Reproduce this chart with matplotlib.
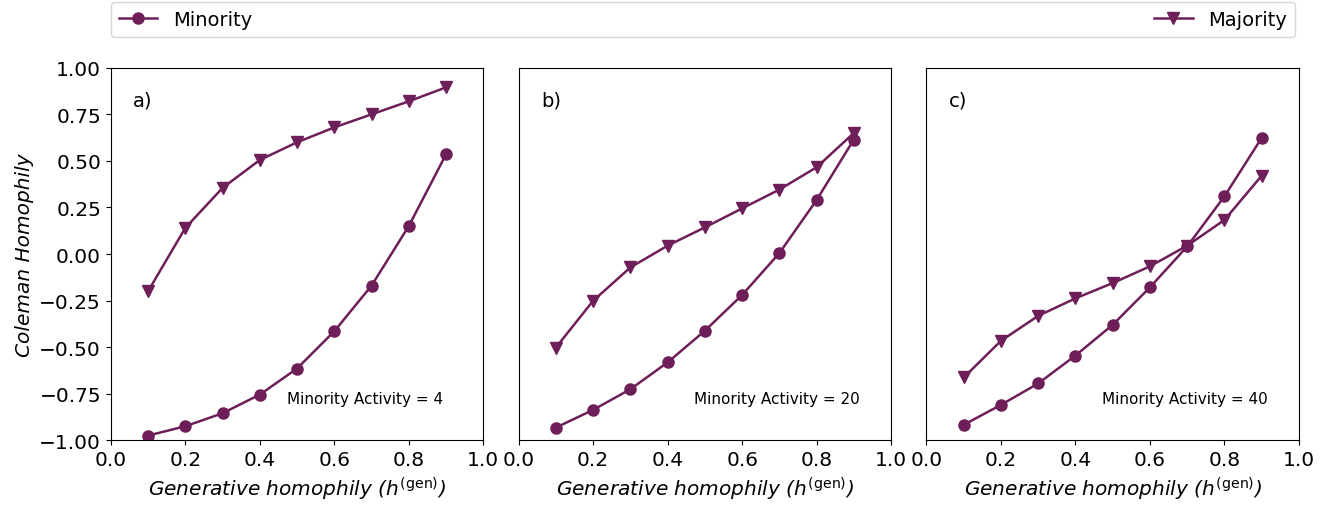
import numpy as np
import matplotlib.pyplot as plt

h_gen = [0.1, 0.2, 0.3, 0.4, 0.5, 0.6, 0.7, 0.8, 0.9]
activities = [4, 20, 40]
panel_tags = ["a)", "b)", "c)"]

minority = [
    [-0.975, -0.925, -0.855, -0.755, -0.615, -0.415, -0.17, 0.15, 0.535],
    [-0.932, -0.837, -0.726, -0.582, -0.412, -0.220, 0.005, 0.29, 0.615],
    [-0.917, -0.810, -0.695, -0.545, -0.380, -0.179, 0.041, 0.310, 0.624],
]
majority = [
    [-0.20, 0.14, 0.355, 0.505, 0.60, 0.68, 0.75, 0.82, 0.895],
    [-0.502, -0.251, -0.072, 0.045, 0.143, 0.245, 0.346, 0.466, 0.65],
    [-0.663, -0.466, -0.332, -0.238, -0.156, -0.066, 0.045, 0.183, 0.421],
]

color = '#6e1e58'

fig, axes = plt.subplots(1, 3, figsize=(13.35, 5.06), dpi=100, sharey=True)
fig.subplots_adjust(left=0.083, right=0.973, bottom=0.128, top=0.864, wspace=0.095)

for i, ax in enumerate(axes):
    ax.plot(h_gen, minority[i], marker='o', color=color, lw=1.8, ms=8, label='Minority')
    ax.plot(h_gen, majority[i], marker='v', color=color, lw=1.8, ms=8, label='Majority')
    ax.set_xlim(0, 1)
    ax.set_ylim(-1, 1)
    ax.set_xticks(np.arange(0, 1.01, 0.2))
    ax.tick_params(labelsize=14.5)
    ax.set_xlabel(r'Generative homophily ($h^{(\mathrm{gen})}$)', fontsize=14.5, style='italic')
    ax.text(0.06, 0.9, panel_tags[i], transform=ax.transAxes, fontsize=14)
    ax.text(0.472, 0.1, 'Minority Activity = %d' % activities[i], transform=ax.transAxes,
            fontsize=11, ha='left')
    if i > 0:
        ax.tick_params(axis='y', left=False, labelleft=False)

axes[0].set_yticks(np.arange(-1, 1.01, 0.25))
axes[0].set_ylabel('Coleman Homophily', fontsize=14.5, style='italic')

handles, labels = axes[0].get_legend_handles_labels()
fig.legend(handles, labels, loc='lower left', bbox_to_anchor=(0.083, 0.925, 0.887, 0.07),
           ncol=2, mode='expand', fontsize=14, borderaxespad=0)

fig.savefig('out.png', dpi=100)
